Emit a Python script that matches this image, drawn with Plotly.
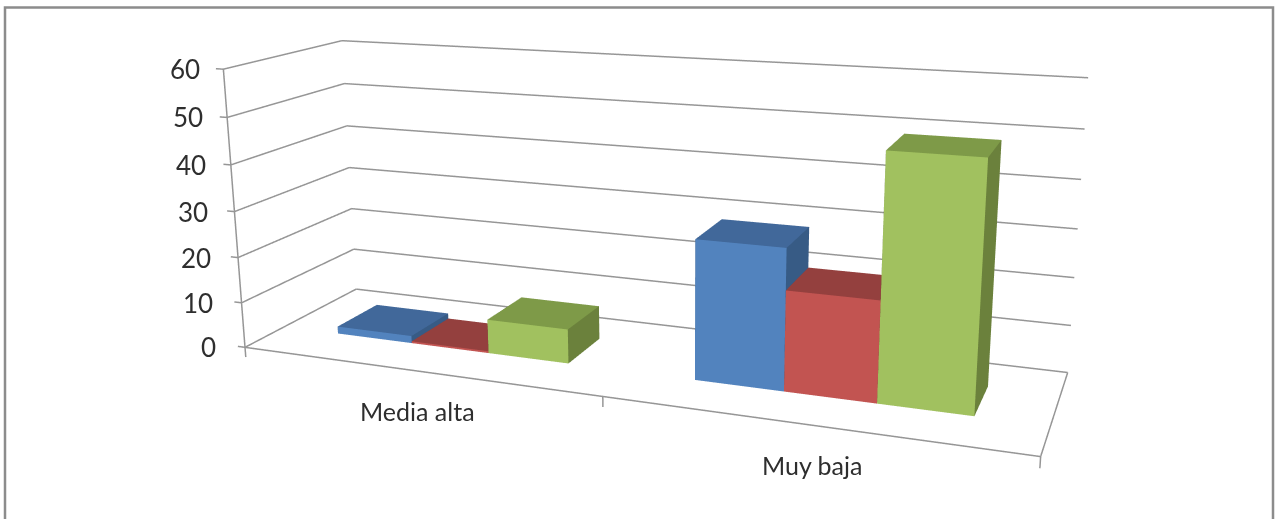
import plotly.graph_objects as go

categories = ["Media alta", "Muy baja"]
series_names = ["Serie 1", "Serie 2", "Serie 3"]
serie1 = [1.6, 29.2]
serie2 = [0.4, 20.7]
serie3 = [7.4, 49.5]
value_ticks = [0, 10, 20, 30, 40, 50, 60]
front_colors = ["#5283BE", "#C25451", "#A1C15F"]
top_colors = ["#41689A", "#94403E", "#7E9A48"]
side_colors = ["#375B85", "#7F3532", "#6B813C"]
GRID = "#969696"
TEXT = "#2e2e2e"

# Camera fitted to the reference's perspective (narrow field of view -> tall, shifted canvas)
eye = [0.643, -1.656, 0.4631]
center = [0.2887, -0.7559, 0.2096]
up = [-0.0856, 0.2387, 0.9673]
ay, az = 0.2694, 0.3614
FIG_H = 1244
SHIFT = 400
VIEW_W = 1272.54

GAP = 1.5
bar_w = 1 / (3 + GAP)
y0, y1 = 0.33, 0.70

fig = go.Figure()
quads = [(0,1,2,3,'f'),(5,4,7,6,'s'),(4,0,3,7,'s'),(1,5,6,2,'s'),(3,2,6,7,'t'),(4,5,1,0,'s')]
for s, vals_s in enumerate([serie1, serie2, serie3]):
    for c, v in enumerate(vals_s):
        x0 = c + bar_w*GAP/2 + s*bar_w; x1 = x0 + bar_w
        vx = [x0,x1,x1,x0,x0,x1,x1,x0]; vy=[y0,y0,y0,y0,y1,y1,y1,y1]; vz=[0,0,v,v,0,0,v,v]
        I,J,K,C=[],[],[],[]
        col={'f':front_colors[s],'s':side_colors[s],'t':top_colors[s]}
        for a,b,cc,d,t in quads:
            I+=[a,a];J+=[b,cc];K+=[cc,d];C+=[col[t],col[t]]
        fig.add_trace(go.Mesh3d(x=vx,y=vy,z=vz,i=I,j=J,k=K,facecolor=C,flatshading=True,name=series_names[s],
            lighting=dict(ambient=1,diffuse=0,specular=0,fresnel=0,roughness=1),hoverinfo='skip',showscale=False))

def seg(lst):
    X,Y,Z=[],[],[]
    for (a,b) in lst:
        X+=[a[0],b[0],None];Y+=[a[1],b[1],None];Z+=[a[2],b[2],None]
    return dict(x=X,y=Y,z=Z)
NC=len(categories)
L=[]
for t in value_ticks:
    L.append(((0,0,t),(0,1,t)))
    L.append(((0,1,t),(NC,1,t)))
    L.append(((0,0,t),(-0.022,0,t)))
L.append(((0,0,0),(0,0,value_ticks[-1])))
L.append(((0,0,0),(NC,0,0)))
L.append(((NC,0,0),(NC,1,0)))
for c in range(NC+1):
    L.append(((c,0,0),(c,0,-2.2)))
fig.add_trace(go.Scatter3d(mode='lines',line=dict(color=GRID,width=3),hoverinfo='skip',**seg(L)))

ann=[]
for t in value_ticks:
    ann.append(dict(x=0,y=0,z=t,text=str(t),showarrow=False,xanchor='right',yanchor='middle',xshift=-27+t/10,
                    font=dict(family='Lato',size=26,color=TEXT)))
for c,n in enumerate(categories):
    ann.append(dict(x=c+.5,y=0,z=0,text=n,showarrow=False,xanchor='center',yanchor='middle',yshift=-40,xshift=2,
                    font=dict(family='Lato',size=25,color=TEXT)))
fig.update_layout(width=1277,height=FIG_H,margin=dict(l=0,r=0,t=0,b=0),paper_bgcolor='white',showlegend=False,
  scene=dict(domain=dict(x=[0,VIEW_W/1277],y=[0,1]),
    xaxis=dict(range=[-.2,NC+.2],visible=False),yaxis=dict(range=[-.1,1.1],visible=False),zaxis=dict(range=[-5,65],visible=False),
    aspectmode='manual',aspectratio=dict(x=1*(NC+.4)/NC,y=ay*1.2,z=az*70/60),
    camera=dict(eye=dict(x=eye[0],y=eye[1],z=eye[2]),center=dict(x=center[0],y=center[1],z=center[2]),up=dict(x=up[0],y=up[1],z=up[2])),
    annotations=ann),
  shapes=[dict(type='rect',xref='paper',yref='paper',x0=5/1277,x1=1273/1277,y0=-0.05,y1=1-(SHIFT+7.5)/FIG_H,line=dict(color='#8c8c8c',width=2.5))])
fig.write_html("out.html",post_script="document.body.style.margin='0';document.body.style.overflow='hidden';document.getElementById('{plot_id}').style.marginTop='-%dpx';"%SHIFT,config={'displayModeBar':False})
